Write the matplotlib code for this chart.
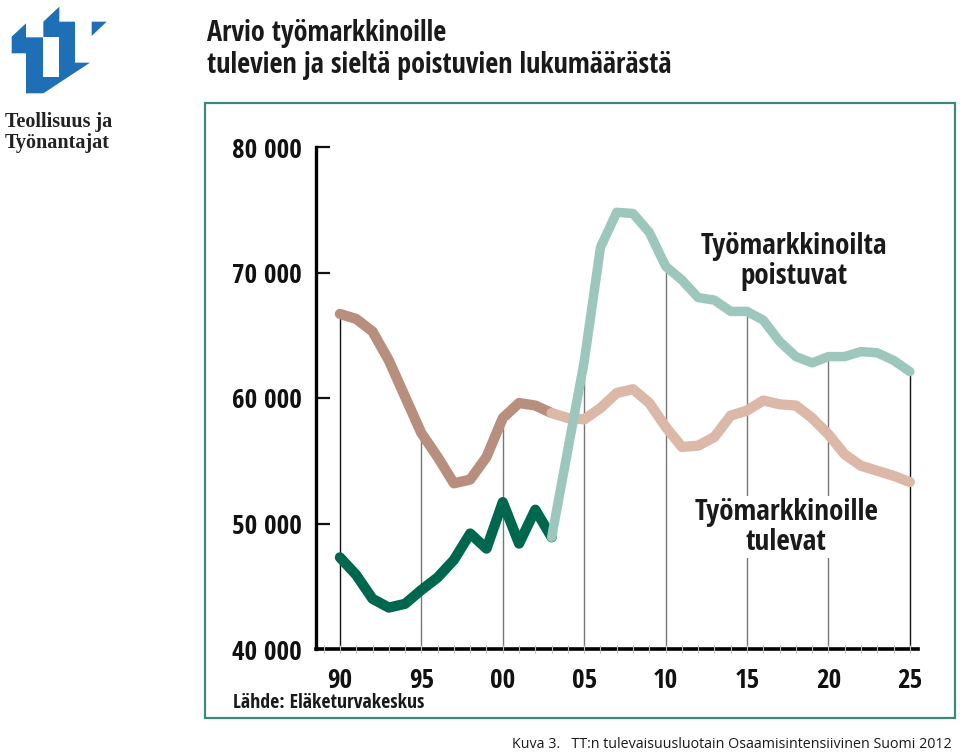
import numpy as np
import matplotlib
matplotlib.use("Agg")
import matplotlib.pyplot as plt
from matplotlib import font_manager as fm
from matplotlib.patches import Polygon, Rectangle

names = {f.name for f in fm.fontManager.ttflist}
COND = 'DejaVu Sans'
for cand in ['Open Sans Condensed', 'PT Sans Narrow', 'Fira Sans Condensed']:
    if cand in names:
        COND = cand
        break
SANS = ['Open Sans', 'DejaVu Sans']

# ---------------- data ----------------
years_hist = list(range(1990, 2004))
years_fc = list(range(2003, 2026))
leaving_hist = [66700, 66300, 65300, 63000, 60100, 57200, 55300, 53200, 53500, 55300,
                58400, 59600, 59400, 58800]
entering_hist = [47300, 45900, 44000, 43300, 43600, 44700, 45700, 47100, 49200, 48000,
                 51700, 48400, 51100, 48900]
leaving_fc = [48900, 55900, 62900, 72000, 74800, 74700, 73200, 70500, 69400, 68000,
              67800, 66900, 66900, 66200, 64500, 63300, 62800, 63300, 63300, 63700,
              63600, 63000, 62100]
entering_fc = [58800, 58400, 58300, 59200, 60400, 60700, 59600, 57700, 56100, 56200,
               56900, 58600, 59000, 59800, 59500, 59400, 58400, 57100, 55500, 54600,
               54200, 53800, 53300]
ytick_vals = [40000, 50000, 60000, 70000, 80000]
ytick_labels = ['40 000', '50 000', '60 000', '70 000', '80 000']
xtick_vals = [1990, 1995, 2000, 2005, 2010, 2015, 2020, 2025]
xtick_labels = ['90', '95', '00', '05', '10', '15', '20', '25']

W, H = 960, 753
fig = plt.figure(figsize=(W / 100, H / 100), dpi=100)

def fx(px):
    return px / W

def fy(py):
    return 1 - py / H

# frame
fig.patches.append(Rectangle((fx(205), fy(718)), fx(955) - fx(205), fy(103) - fy(718),
                             transform=fig.transFigure, fill=False,
                             edgecolor='#3b8a78', linewidth=1.6))

# logo
blue = '#1f6fb6'
logo_outer = [(35, 110), (78, 70), (78, 112), (130, 112), (130, 65), (178, 20), (178, 65),
              (225, 65), (225, 188), (270, 188), (130, 280), (78, 280), (78, 160), (35, 160)]
logo_hole = [(130, 112), (178, 112), (178, 232), (130, 232)]
logo_tri = [(275, 65), (320, 65), (275, 108)]
for poly, col in [(logo_outer, blue), (logo_hole, 'white'), (logo_tri, blue)]:
    pts = [(fx(x / 3), fy(y / 3)) for x, y in poly]
    fig.patches.append(Polygon(pts, closed=True, transform=fig.transFigure,
                               facecolor=col, edgecolor='none'))
fig.text(fx(5), fy(122), 'Teollisuus ja', family='Liberation Serif', fontsize=14.5,
         fontweight='bold', color='#222222', va='center', ha='left')
fig.text(fx(5), fy(143), 'Työnantajat', family='Liberation Serif', fontsize=14.5,
         fontweight='bold', color='#222222', va='center', ha='left')

# title
tkw = dict(family=COND, fontsize=20.3, fontweight='bold', color='#1a1a1a',
           va='center', ha='left')
fig.text(fx(207), fy(34), 'Arvio työmarkkinoille', **tkw)
fig.text(fx(207), fy(66), 'tulevien ja sieltä poistuvien lukumäärästä', **tkw)

# axes
x0, x1 = 316, 918
y0, y1 = 649, 147
ax = fig.add_axes([fx(x0), fy(y0), fx(x1) - fx(x0), fy(y1) - fy(y0)])
ax.set_xlim(1988.53, 2025.5)
ax.set_ylim(40000, 80000)
for s in ['top', 'right']:
    ax.spines[s].set_visible(False)
ax.spines['left'].set_linewidth(2.4)
ax.spines['bottom'].set_linewidth(2.6)
ax.patch.set_alpha(0)

# vertical guide lines up to the highest series at each 5-year mark
top_val = {}
for yrs, vals in [(years_hist, leaving_hist), (years_hist, entering_hist),
                  (years_fc, leaving_fc), (years_fc, entering_fc)]:
    for yr, v in zip(yrs, vals):
        top_val[yr] = max(top_val.get(yr, 0), v)
for yr in xtick_vals:
    col = '#111111' if yr in (1990, 2025) else '#777777'
    ax.vlines(yr, 40000, top_val[yr], color=col, linewidth=1.0, zorder=1)

lw = 7.4
kw = dict(solid_capstyle='round', solid_joinstyle='round')
ax.plot(years_hist, leaving_hist, color='#b88f7e', lw=lw, zorder=3, **kw)
ax.plot(years_fc, entering_fc, color='#dcb8a9', lw=lw, zorder=4, **kw)
ax.plot(years_hist, entering_hist, color='#00674f', lw=lw, zorder=5, **kw)
ax.plot(years_fc, leaving_fc, color='#9dc7bc', lw=lw - 0.6, zorder=6, **kw)

# notches on bottom axis
ax.vlines(np.arange(1989, 2026), 39700, 40300, color='#bbbbbb', linewidth=0.8,
          zorder=7, clip_on=False)

ax.set_yticks(ytick_vals)
ax.set_yticklabels(ytick_labels)
ax.set_xticks(xtick_vals)
ax.set_xticklabels(xtick_labels)
ax.tick_params(axis='y', direction='in', length=10, width=1.6, pad=10, colors='#111111')
ax.tick_params(axis='x', length=0, pad=13, colors='#111111')
for lab in ax.get_yticklabels() + ax.get_xticklabels():
    lab.set_family(COND)
    lab.set_fontsize(19.5)
    lab.set_fontweight('bold')

# series labels
lab_kw = dict(family=COND, fontsize=21, fontweight='bold',
              color='#1a1a1a', ha='center', va='center', zorder=8)
ax.text(2017.9, 70900, 'Työmarkkinoilta\npoistuvat', linespacing=1.05, **lab_kw)
ax.text(2017.4, 49700, 'Työmarkkinoille\ntulevat', linespacing=1.05,
        bbox=dict(facecolor='white', edgecolor='none', pad=1), **lab_kw)

fig.text(fx(233), fy(703), 'Lähde: Eläketurvakeskus', family=COND,
         fontsize=14.2, fontweight='bold', color='#1a1a1a', va='center', ha='left')
fig.text(fx(952), fy(745), 'Kuva 3.   TT:n tulevaisuusluotain Osaamisintensiivinen Suomi 2012',
         family=SANS, fontsize=10.3, color='#1a1a1a', va='center', ha='right')

fig.savefig('out.png', dpi=100)
